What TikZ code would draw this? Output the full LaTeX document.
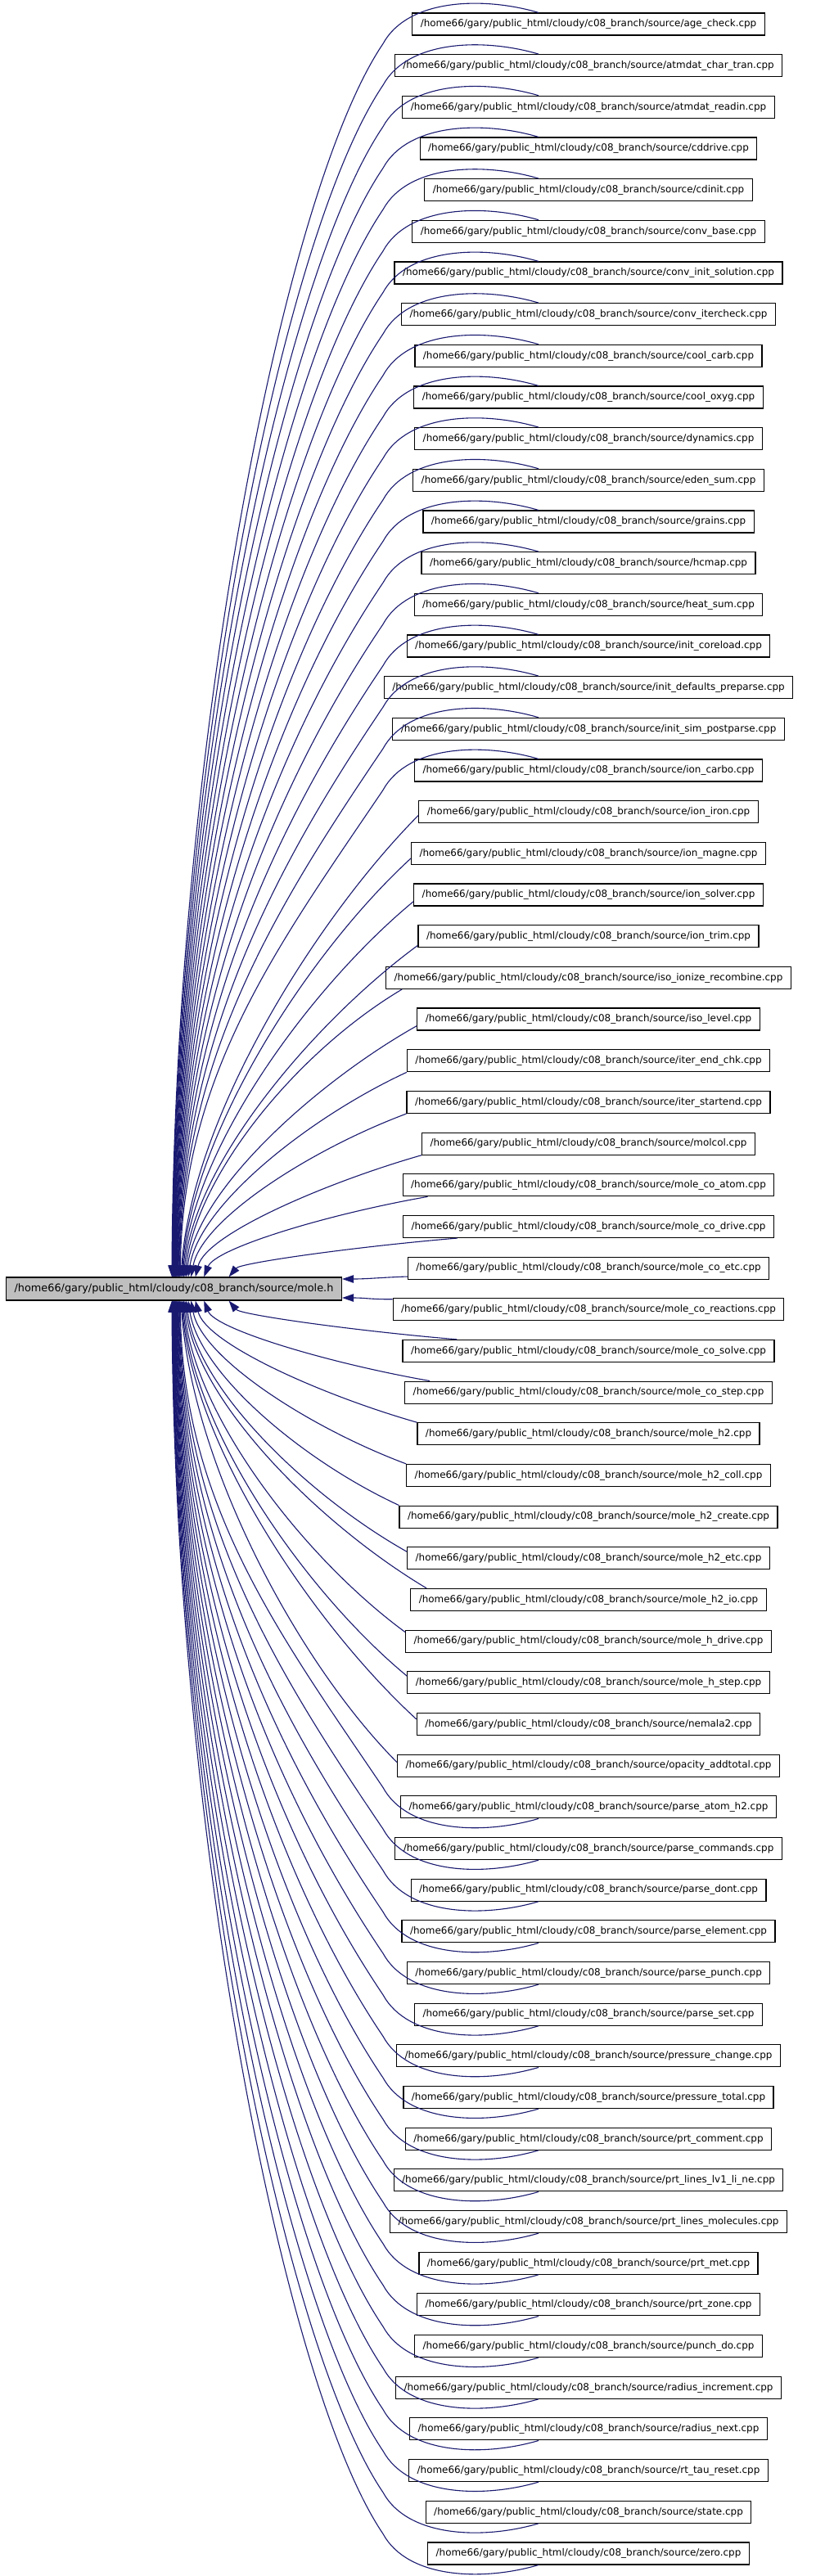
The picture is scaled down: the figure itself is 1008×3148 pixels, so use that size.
\documentclass[tikz,border=0pt]{standalone}
\usepackage{fontspec}
\setmainfont{DejaVu Sans}
\usetikzlibrary{arrows.meta,calc}
\definecolor{edgeblue}{HTML}{191970}
\definecolor{mainfill}{HTML}{BFBFBF}
\tikzset{
  rnode/.style={draw=black, line width=1.2pt, fill=white, font=\fontsize{11.95}{14}\selectfont,
    inner xsep=10pt, inner ysep=0pt, minimum height=27pt, text height=9.2pt, text depth=2.6pt},
  mnode/.style={draw=black, line width=1.2pt, fill=mainfill, font=\fontsize{12.84}{15}\selectfont,
    inner xsep=10pt, inner ysep=0pt, minimum height=28pt, minimum width=410pt, text height=9.7pt, text depth=2.8pt},
  dep/.style={draw=edgeblue, line width=1.1pt, -{Triangle[length=14pt,width=9.5pt]}}
}
\begin{document}
\begin{tikzpicture}[x=1pt,y=1pt]
\useasboundingbox (0,0) rectangle (1008,-3148);
\node[mnode] (main) at (212.5,-1575) {/home66/gary/public\_html/cloudy/c08\_branch/source/mole.h};
\foreach \i/\nm in {0/age\_check, 1/atmdat\_char\_tran, 2/atmdat\_readin, 3/cddrive, 4/cdinit,
  5/conv\_base, 6/conv\_init\_solution, 7/conv\_itercheck, 8/cool\_carb, 9/cool\_oxyg,
  10/dynamics, 11/eden\_sum, 12/grains, 13/hcmap, 14/heat\_sum, 15/init\_coreload,
  16/init\_defaults\_preparse, 17/init\_sim\_postparse, 18/ion\_carbo, 19/ion\_iron,
  20/ion\_magne, 21/ion\_solver, 22/ion\_trim, 23/iso\_ionize\_recombine, 24/iso\_level,
  25/iter\_end\_chk, 26/iter\_startend, 27/molcol, 28/mole\_co\_atom, 29/mole\_co\_drive,
  30/mole\_co\_etc, 31/mole\_co\_reactions, 32/mole\_co\_solve, 33/mole\_co\_step, 34/mole\_h2,
  35/mole\_h2\_coll, 36/mole\_h2\_create, 37/mole\_h2\_etc, 38/mole\_h2\_io, 39/mole\_h\_drive,
  40/mole\_h\_step, 41/nemala2, 42/opacity\_addtotal, 43/parse\_atom\_h2, 44/parse\_commands,
  45/parse\_dont, 46/parse\_element, 47/parse\_punch, 48/parse\_set, 49/pressure\_change,
  50/pressure\_total, 51/prt\_comment, 52/prt\_lines\_lv1\_li\_ne, 53/prt\_lines\_molecules,
  54/prt\_met, 55/prt\_zone, 56/punch\_do, 57/radius\_increment, 58/radius\_next,
  59/rt\_tau\_reset, 60/state, 61/zero}{
  \node[rnode] (n\i) at (719,{-29.5-\i*50.67}) {/home66/gary/public\_html/cloudy/c08\_branch/source/\nm.cpp};
}
% top arcs
\foreach \i in {0,...,18}{
  \pgfmathsetmacro{\myTx}{208+0.4*\i+60/(30-\i)-212.5}
  \pgfmathsetmacro{\myCf}{0.42*(1507-\i*50.67)}
  \draw[dep] ($(n\i.north)+(-61,0)$) .. controls +(-68,20) and +(30,55) .. ($(n\i.north)+(-251,-38)$)
     .. controls +(-125,-185) and +(3,\myCf) .. ($(main.north)+(\myTx,0)$);
}
% bottom arcs
\foreach \i in {43,...,61}{
  \pgfmathtruncatemacro{\myJ}{61-\i}
  \pgfmathsetmacro{\myTx}{208+0.4*\myJ+60/(30-\myJ)-212.5}
  \pgfmathsetmacro{\myCf}{0.42*(1507-\myJ*50.67)}
  \draw[dep] ($(n\i.south)+(-61,0)$) .. controls +(-68,-20) and +(30,-55) .. ($(n\i.south)+(-251,38)$)
     .. controls +(-125,185) and +(3,-\myCf) .. ($(main.south)+(\myTx,0)$);
}
% upper side group
\foreach \i/\sx/\sy in {19/0/10, 20/0/8, 21/0/6, 22/0/3, 23/20/0, 24/0/6, 25/0/0, 26/0/0, 27/0/0, 28/31/0, 29/67/0}{
  \pgfmathsetmacro{\myTx}{208+0.4*\i+60/(30-\i)}
  \pgfmathsetmacro{\myW}{495+\sx-\myTx}
  \pgfmathsetmacro{\myD}{1561-(43+\i*50.67-\sy)}
  \pgfmathsetmacro{\myAx}{-0.45*\myW}
  \pgfmathsetmacro{\myAy}{-0.22*\myD}
  \pgfmathsetmacro{\myBx}{0.05*\myW}
  \pgfmathsetmacro{\myBy}{0.35*\myD}
  \pgfmathsetmacro{\myT}{\myTx-212.5}
  \draw[dep] ($(n\i.south west)+(\sx,\sy)$) .. controls +(\myAx,\myAy) and +(\myBx,\myBy) .. ($(main.north)+(\myT,0)$);
}
% lower side group
\foreach \i/\sx/\sy in {42/0/10, 41/0/8, 40/0/6, 39/0/3, 38/20/0, 37/0/6, 36/0/0, 35/0/0, 34/0/0, 33/31/0, 32/67/0}{
  \pgfmathtruncatemacro{\myJ}{61-\i}
  \pgfmathsetmacro{\myTx}{208+0.4*\myJ+60/(30-\myJ)}
  \pgfmathsetmacro{\myW}{495+\sx-\myTx}
  \pgfmathsetmacro{\myD}{1561-(43+\myJ*50.67-\sy)}
  \pgfmathsetmacro{\myAx}{-0.45*\myW}
  \pgfmathsetmacro{\myAy}{0.22*\myD}
  \pgfmathsetmacro{\myBx}{0.05*\myW}
  \pgfmathsetmacro{\myBy}{-0.35*\myD}
  \pgfmathsetmacro{\myT}{\myTx-212.5}
  \draw[dep] ($(n\i.north west)+(\sx,-\sy)$) .. controls +(\myAx,\myAy) and +(\myBx,\myBy) .. ($(main.south)+(\myT,0)$);
}
% nearest two
\draw[dep] ($(n30.west)+(0,-10.4)$) .. controls +(-30,-1) and +(30,0) .. ($(main.east)+(0,12)$);
\draw[dep] ($(n31.west)+(0,12.5)$) .. controls +(-30,0) and +(30,0) .. ($(main.east)+(0,-11)$);
\end{tikzpicture}
\end{document}
